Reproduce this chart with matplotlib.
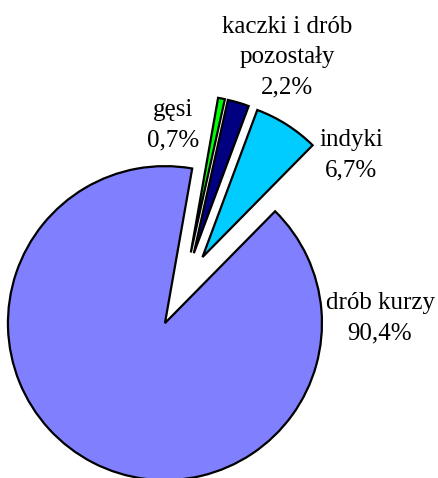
import matplotlib
matplotlib.use("Agg")
import matplotlib.pyplot as plt

categories = ["gęsi", "kaczki i drób\npozostały", "indyki", "drób kurzy"]
values = [0.7, 2.2, 6.7, 90.4]
value_labels = ["0,7%", "2,2%", "6,7%", "90,4%"]
colors = ["#00FF00", "#000080", "#00CCFF", "#8080FF"]
explode_px = [34, 34, 34, 42]

W, H = 438, 478
fig = plt.figure(figsize=(W / 100, H / 100), dpi=100)
ax = fig.add_axes([0, 0, 1, 1])

R = 157
cx, cy = 184.2, H - 285.8
ax.pie(values, colors=colors, startangle=80, counterclock=False,
       radius=R, center=(cx, cy), explode=explode_px,
       wedgeprops=dict(edgecolor="black", linewidth=1.6),
       frame=True)
ax.set_xlim(0, W)
ax.set_ylim(0, H)
ax.set_aspect("equal")
ax.axis("off")

label_pos = [(173, 125), (287, 57), (351, 155), (380, 318)]
for cat, vl, (x, y) in zip(categories, value_labels, label_pos):
    ax.text(x, H - y, cat + "\n" + vl, ha="center", va="center",
            fontsize=18, family="Liberation Serif", linespacing=1.5,
            color="black")

fig.savefig("out.png", dpi=100)
